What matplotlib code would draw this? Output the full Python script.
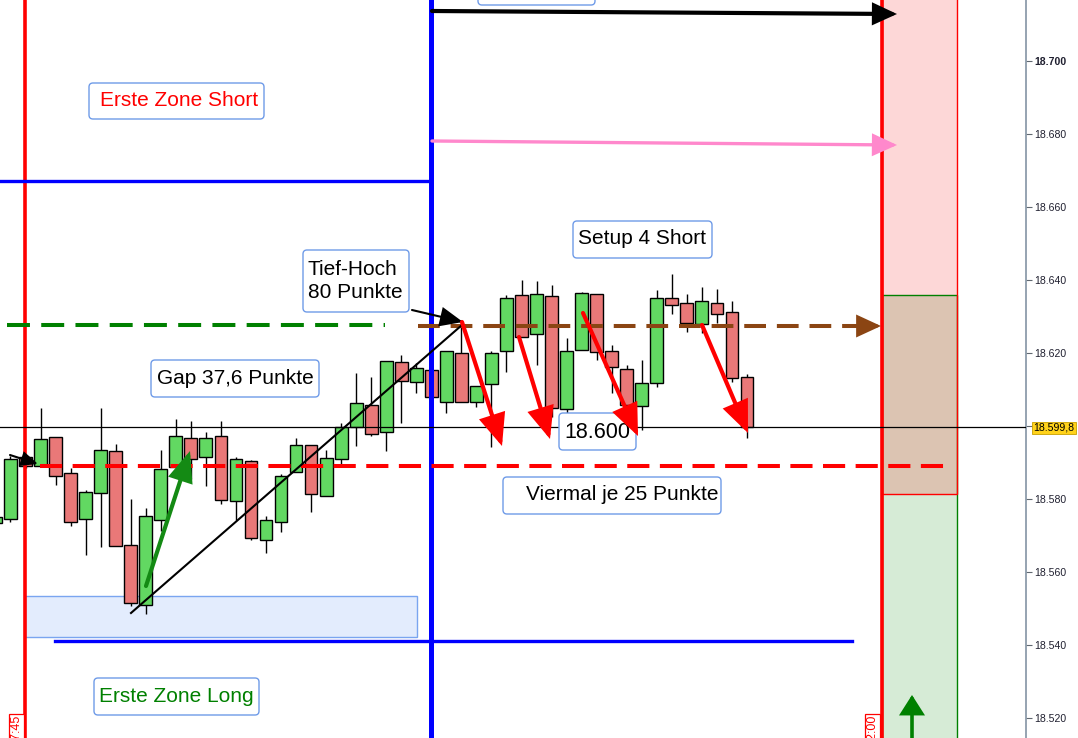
import matplotlib
matplotlib.use("Agg")
import matplotlib.pyplot as plt
import matplotlib.transforms as mtransforms
from matplotlib.patches import Rectangle, FancyBboxPatch, FancyArrowPatch

plt.rcParams['font.family'] = ['Liberation Sans', 'DejaVu Sans']

# ---------------- data (index = candle number, prices in points) ----------------
opens = [18573.4, 18574.5, 18591.5, 18589.0, 18597.0, 18587.1, 18574.5, 18581.6, 18593.1, 18567.4,
         18550.9, 18574.2, 18588.8, 18596.7, 18591.5, 18597.2, 18579.4, 18590.4, 18568.7, 18573.7,
         18587.4, 18594.8, 18580.8, 18591.0, 18599.7, 18605.7, 18598.3, 18617.5, 18612.0, 18615.3,
         18606.6, 18620.0, 18606.6, 18611.5, 18620.5, 18635.9, 18625.2, 18635.6, 18604.6, 18620.8,
         18636.2, 18620.5, 18615.6, 18605.5, 18611.8, 18635.1, 18633.7, 18627.9, 18633.7, 18631.2,
         18613.4]
highs = [18576.4, 18591.8, 18592.0, 18604.9, 18597.0, 18588.5, 18582.5, 18604.9, 18595.1, 18580.0,
         18577.5, 18593.4, 18601.9, 18601.4, 18598.3, 18601.4, 18591.5, 18590.7, 18575.3, 18586.8,
         18596.7, 18594.8, 18593.4, 18600.8, 18614.5, 18613.4, 18617.8, 18619.4, 18617.3, 18615.3,
         18620.5, 18629.0, 18611.0, 18620.5, 18635.9, 18640.0, 18639.7, 18638.6, 18624.1, 18636.7,
         18636.2, 18622.2, 18616.7, 18618.1, 18637.3, 18641.6, 18636.2, 18638.1, 18637.5, 18634.2,
         18614.2]
lows = [18572.3, 18573.7, 18588.5, 18589.0, 18583.8, 18572.6, 18564.6, 18566.8, 18567.0, 18550.7,
        18548.5, 18571.2, 18588.8, 18585.5, 18583.5, 18578.6, 18574.2, 18568.7, 18565.2, 18571.0,
        18587.4, 18576.4, 18580.8, 18589.0, 18594.5, 18597.2, 18593.1, 18600.8, 18609.0, 18607.4,
        18603.5, 18606.6, 18605.2, 18594.2, 18614.8, 18624.4, 18616.7, 18602.5, 18603.5, 18620.8,
        18618.1, 18609.0, 18603.0, 18598.9, 18610.7, 18630.7, 18625.7, 18625.5, 18628.2, 18612.0,
        18596.7]
closes = [18575.1, 18591.0, 18589.0, 18596.4, 18586.3, 18573.7, 18581.9, 18593.4, 18567.1, 18551.5,
          18575.3, 18588.2, 18597.2, 18591.0, 18596.7, 18579.7, 18591.0, 18569.3, 18574.2, 18586.3,
          18594.8, 18581.4, 18591.2, 18599.7, 18606.3, 18597.8, 18617.8, 18612.3, 18615.9, 18607.9,
          18620.5, 18606.6, 18611.0, 18620.0, 18635.1, 18624.4, 18636.2, 18604.9, 18620.5, 18636.4,
          18620.3, 18616.2, 18605.7, 18611.8, 18635.1, 18633.1, 18628.2, 18634.2, 18630.7, 18613.1,
          18599.8]

y_ticks = [18520, 18540, 18560, 18580, 18600, 18620, 18640, 18660, 18680, 18700]
y_tick_labels = ['18.520', '18.540', '18.560', '18.580', '', '18.620', '18.640', '18.660', '18.680', '18.700']
last_price = 18599.8
last_price_label = '18.599,8'

# price levels of the drawn annotations
zone_short_line = 18667.1
zone_long_line = 18541.1
green_level = 18627.7
brown_level = 18627.4
gap_level = 18588.9
short_zone_bottom = 18581.4
long_zone_top = 18635.9

# ---------------- figure ----------------
W, H = 1078, 738
fig = plt.figure(figsize=(W / 100, H / 100), dpi=100)
AX_R = 1026
ax = fig.add_axes([0, 0, AX_R / W, 1])
XMIN, XMAX = 0.3014, 68.566
YMIN, YMAX = 18514.5, 18716.7
ax.set_xlim(XMIN, XMAX)
ax.set_ylim(YMIN, YMAX)

pix = mtransforms.Affine2D().scale(1, -1).translate(0, H)  # pixel (top-left origin) -> display


def dx(xp):
    return XMIN + xp / AX_R * (XMAX - XMIN)


def py(yp):
    return YMAX - yp / H * (YMAX - YMIN)


# axes styling
for s in ['left', 'top', 'bottom']:
    ax.spines[s].set_visible(False)
ax.spines['right'].set_color('#8494a4')
ax.spines['right'].set_linewidth(1.2)
ax.set_xticks([])
ax.yaxis.tick_right()
ax.set_yticks(y_ticks)
ax.set_yticklabels(y_tick_labels)
ax.tick_params(axis='y', direction='out', length=4, width=0.8, color='#606870',
               labelsize=7.6, labelcolor='#202030', pad=2)
for t, v in zip(ax.yaxis.get_major_ticks(), y_ticks):
    if v == 18700:
        t.label2.set_fontweight('bold')
        t.label1.set_fontweight('bold')

# ---------------- right zones ----------------
zx0, zx1 = dx(882), dx(957)
ax.add_patch(Rectangle((zx0, short_zone_bottom), zx1 - zx0, YMAX + 20 - short_zone_bottom,
                       facecolor='#fdd7d7', edgecolor='none', zorder=1))
ax.add_patch(Rectangle((zx0, YMIN - 20), zx1 - zx0, long_zone_top - YMIN + 20,
                       facecolor='#d6ebd6', edgecolor='none', zorder=1))
ax.add_patch(Rectangle((zx0, short_zone_bottom), zx1 - zx0, long_zone_top - short_zone_bottom,
                       facecolor='#dcc4b2', edgecolor='none', zorder=1))
ax.add_patch(Rectangle((zx0, YMIN - 20), zx1 - zx0, long_zone_top - YMIN + 20,
                       facecolor='none', edgecolor='#008000', lw=1, zorder=1.2))
ax.add_patch(Rectangle((zx0, short_zone_bottom), zx1 - zx0, YMAX + 20 - short_zone_bottom,
                       facecolor='none', edgecolor='#ff0000', lw=1, zorder=1.3))

# light blue long zone box
ax.add_patch(Rectangle((dx(25), py(637)), dx(417) - dx(25), py(596) - py(637),
                       facecolor='#e3ecfd', edgecolor='#7aa5f0', lw=1, zorder=1))

# ---------------- candles ----------------
bw = 0.85
for i, (o, h, l, c) in enumerate(zip(opens, highs, lows, closes)):
    up = c >= o
    ax.vlines(i, l, h, color='black', lw=1, zorder=2)
    ax.add_patch(Rectangle((i - bw / 2, min(o, c)), bw, max(abs(c - o), 0.3),
                           facecolor='#62d862' if up else '#e97878',
                           edgecolor='black', lw=1, zorder=3))

# ---------------- lines ----------------
ax.axvline(dx(25), color='#ff0000', lw=2.6, zorder=4)
ax.axvline(dx(881.5), color='#ff0000', lw=2.6, zorder=4)
ax.axvline(dx(431), color='#0000ff', lw=3.6, zorder=4)
ax.plot([dx(0), dx(431)], [zone_short_line, zone_short_line], color='#0000ff', lw=2.4, zorder=4)
ax.plot([dx(55), dx(852)], [zone_long_line, zone_long_line], color='#0000ff', lw=2.4, zorder=4)
ax.axhline(last_price, color='black', lw=0.9, zorder=4)

ax.plot([dx(7), dx(385)], [green_level, green_level], color='#008000', lw=2.9,
        linestyle=(0, (5.7, 2.8)), dash_capstyle='butt', zorder=4)
ax.plot([dx(418), dx(866)], [brown_level, brown_level], color='#8b4513', lw=2.9,
        linestyle=(0, (5.4, 2.7)), dash_capstyle='butt', zorder=4)
ax.plot([dx(40), dx(945)], [gap_level, gap_level], color='#ff0000', lw=2.9,
        linestyle=(0, (5.5, 2.6)), dash_capstyle='butt', zorder=4)

# diagonal low-high line
ax.plot([dx(131), dx(462)], [py(613), py(325)], color='black', lw=1.5, zorder=5)


def arrow(p0, p1, color, lw, hl, hw, z=6):
    a = FancyArrowPatch((dx(p0[0]), py(p0[1])), (dx(p1[0]), py(p1[1])),
                        arrowstyle=f'-|>,head_length={hl},head_width={hw}',
                        mutation_scale=20, color=color, lw=lw,
                        shrinkA=0, shrinkB=0, zorder=z, joinstyle='miter')
    ax.add_patch(a)


arrow((432, 11), (897, 14), 'black', 3.0, 0.65, 0.3)
arrow((432, 141), (897, 145), '#ff88cc', 2.4, 0.7, 0.32)
arrow((858, 326), (881, 326), '#8b4513', 2.9, 0.65, 0.3)
arrow((912, 745), (912, 695), '#008000', 2.6, 0.55, 0.35)
arrow((146, 586), (190, 451), '#148a14', 3.0, 0.85, 0.35)
arrow((10, 455), (38, 464), 'black', 1.5, 0.5, 0.22)
arrow((412, 310), (463, 322), 'black', 1.5, 0.7, 0.3)
for p0, p1 in [((462, 322), (502, 446)), ((519, 337), (550, 439)),
               ((583, 313), (638, 436)), ((702, 325), (748, 433))]:
    arrow(p0, p1, '#ff0000', 3.0, 0.9, 0.38, z=8)

# ---------------- text boxes ----------------
def tbox(x0, y0, x1, y1, z=7):
    ax.add_patch(FancyBboxPatch((x0, y0), x1 - x0, y1 - y0, boxstyle='round,pad=0,rounding_size=4',
                                transform=pix, facecolor='white', edgecolor='#6f9be8',
                                lw=1, zorder=z))

def ttext(x, y, s, color='black', ha='center', size=15, **kw):
    ax.text(x, y, s, transform=pix, color=color, ha=ha, va='center', fontsize=size, zorder=7.5, **kw)


tbox(89, 83, 264, 119)
ttext(179, 101, 'Erste Zone Short', color='#ff0000')
tbox(94, 678, 259, 715)
ttext(176, 696, 'Erste Zone Long', color='#008000')
tbox(151, 360, 319, 397)
ttext(235, 378, 'Gap 37,6 Punkte')
tbox(303, 250, 409, 312)
ttext(308, 281, 'Tief-Hoch\n80 Punkte', ha='left', linespacing=1.25)
tbox(573, 221, 712, 258)
ttext(642, 239, 'Setup 4 Short')
tbox(559, 413, 636, 450)
ttext(597, 432, '18.600', size=15.5)
tbox(503, 477, 721, 514)
ttext(622, 495, 'Viermal je 25 Punkte')
tbox(478, -30, 595, 5)

# time labels at the bottom
for xc, s in [(16.5, '17:45'), (872, '12:00')]:
    ax.text(xc, 715, s, transform=pix, rotation=90, ha='center', va='top', fontsize=9,
            color='#ff0000', zorder=9,
            bbox=dict(boxstyle='square,pad=0.12', facecolor='white', edgecolor='#ff0000', lw=0.9))

# last price label
ax.text(1054, 428, last_price_label, transform=pix, ha='center', va='center', fontsize=7.6,
        color='black', clip_on=False, zorder=10,
        bbox=dict(boxstyle='square,pad=0.12', facecolor='#ffd21a', edgecolor='#c8a000', lw=0.6))

fig.savefig('out.png', dpi=100)
